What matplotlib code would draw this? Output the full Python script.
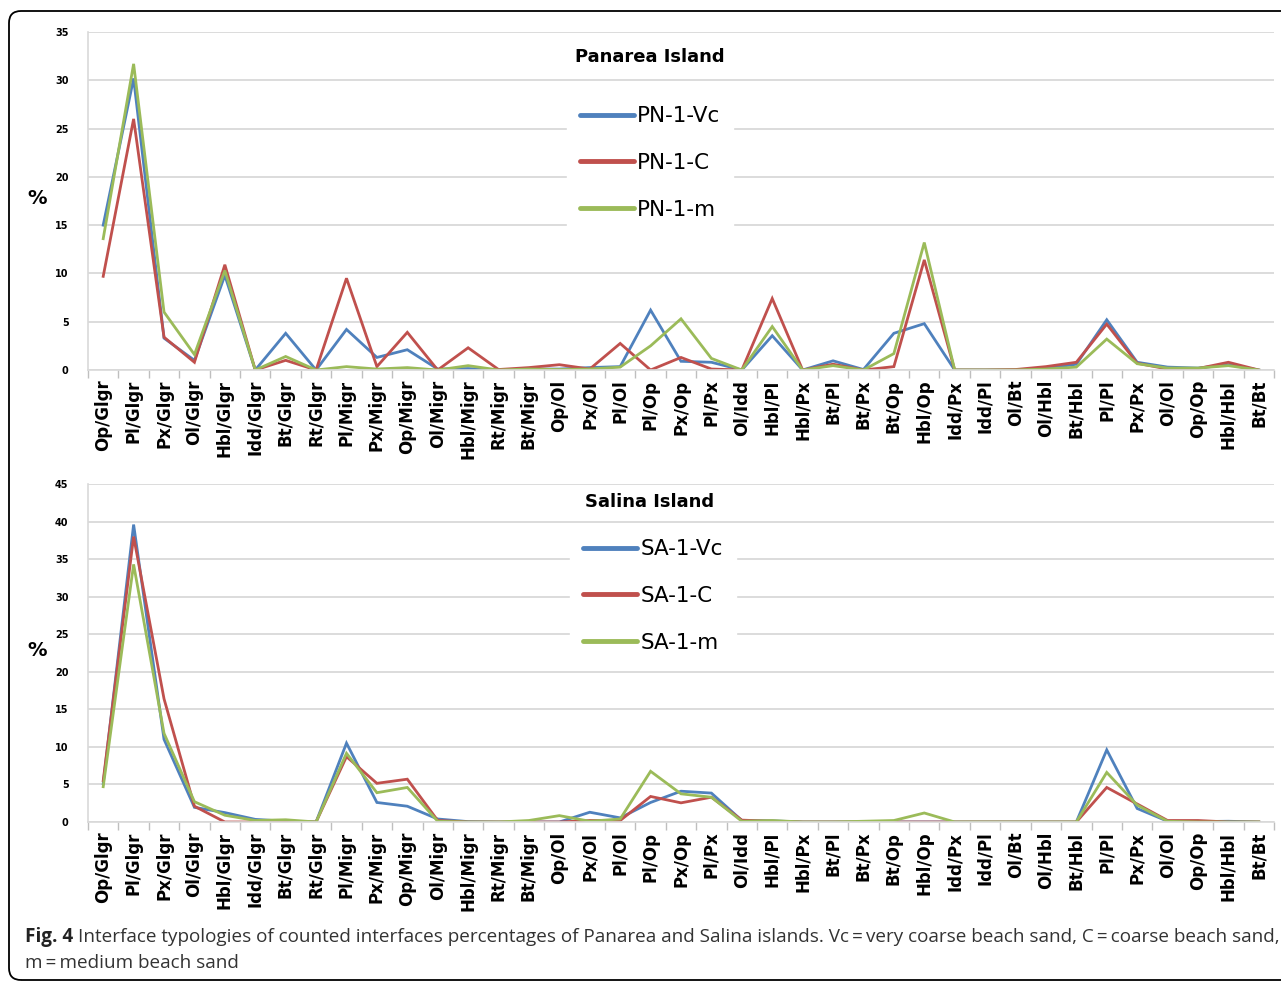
import matplotlib
matplotlib.use('Agg')
import matplotlib.pyplot as plt
import matplotlib.patches as mpatches
from matplotlib.transforms import IdentityTransform

# interface typologies (x axis)
categories = ['Op/Glgr', 'Pl/Glgr', 'Px/Glgr', 'Ol/Glgr', 'Hbl/Glgr', 'Idd/Glgr', 'Bt/Glgr', 'Rt/Glgr',
              'Pl/Migr', 'Px/Migr', 'Op/Migr', 'Ol/Migr', 'Hbl/Migr', 'Rt/Migr', 'Bt/Migr',
              'Op/Ol', 'Px/Ol', 'Pl/Ol', 'Pl/Op', 'Px/Op', 'Pl/Px', 'Ol/Idd', 'Hbl/Pl', 'Hbl/Px',
              'Bt/Pl', 'Bt/Px', 'Bt/Op', 'Hbl/Op', 'Idd/Px', 'Idd/Pl', 'Ol/Bt', 'Ol/Hbl', 'Bt/Hbl',
              'Pl/Pl', 'Px/Px', 'Ol/Ol', 'Op/Op', 'Hbl/Hbl', 'Bt/Bt']

# Panarea island
pn_vc = [15.0, 30.2, 3.3, 1.0, 9.8, 0, 3.8, 0, 4.2, 1.3, 2.1, 0.1, 0.15, 0, 0.1,
         0.1, 0.25, 0.35, 6.2, 0.9, 0.8, 0, 3.55, 0, 0.95, 0.05, 3.8, 4.8, 0, 0, 0,
         0.15, 0.6, 5.2, 0.8, 0.3, 0.2, 0.55, 0]
pn_c = [9.7, 26.0, 3.4, 0.8, 10.9, 0, 1.0, 0, 9.5, 0.35, 3.9, 0, 2.3, 0.05, 0.25,
        0.55, 0.1, 2.75, 0, 1.3, 0.1, 0, 7.4, 0, 0.6, 0, 0.35, 11.4, 0, 0, 0.05,
        0.35, 0.8, 4.75, 0.7, 0.1, 0.15, 0.8, 0]
pn_m = [13.6, 31.7, 6.0, 1.6, 10.3, 0, 1.4, 0, 0.35, 0.1, 0.25, 0, 0.45, 0, 0.1,
        0.05, 0.1, 0.3, 2.5, 5.3, 1.2, 0, 4.5, 0, 0.45, 0, 1.7, 13.2, 0, 0, 0,
        0.1, 0.3, 3.2, 0.65, 0.2, 0.2, 0.45, 0]

# Salina island
sa_vc = [5.1, 39.6, 11.0, 1.95, 1.25, 0.35, 0.1, 0, 10.5, 2.6, 2.1, 0.4, 0.05, 0, 0,
         0, 1.3, 0.55, 2.6, 4.1, 3.85, 0.2, 0.15, 0, 0, 0, 0, 0, 0, 0, 0,
         0, 0, 9.6, 1.8, 0.1, 0.05, 0.1, 0]
sa_c = [5.5, 38.0, 16.4, 2.1, 0, 0, 0.05, 0, 8.7, 5.15, 5.7, 0.2, 0, 0, 0,
        0, 0.2, 0.2, 3.4, 2.55, 3.3, 0.25, 0.1, 0, 0, 0, 0, 0, 0, 0, 0,
        0, 0, 4.6, 2.4, 0.2, 0.2, 0, 0]
sa_m = [4.7, 34.3, 11.8, 2.7, 0.9, 0.2, 0.3, 0, 9.15, 3.9, 4.6, 0.1, 0, 0, 0.2,
        0.85, 0.1, 0.4, 6.75, 3.75, 3.3, 0.1, 0.2, 0, 0, 0.1, 0.2, 1.2, 0, 0, 0,
        0, 0, 6.6, 2.25, 0.1, 0, 0, 0]

colors = ['#4F81BD', '#C0504D', '#9BBB59']
W, H = 1281, 981


def draw_panel(ax, series, labels, ymax, title, title_y, legend_x, legend_y):
    x = range(len(categories))
    for vals, lab, col in zip(series, labels, colors):
        ax.plot(x, vals, color=col, lw=2.0, label=lab, solid_joinstyle='miter')
    ax.set_xlim(-0.5, len(categories) - 0.5)
    ax.set_ylim(0, ymax)
    ax.set_yticks(range(0, ymax + 1, 5))
    ax.set_yticklabels([str(v) for v in range(0, ymax + 1, 5)], fontsize=7, fontweight='bold')
    ax.tick_params(axis='y', length=0, pad=14)
    ax.set_xticks(list(x))
    ax.set_xticklabels(categories, rotation=90, fontsize=12, fontweight='bold')
    ax.set_xticks([i - 0.5 for i in range(len(categories) + 1)], minor=True)
    ax.tick_params(axis='x', which='major', length=0, pad=7)
    ax.tick_params(axis='x', which='minor', length=6, color='#BFBFBF', width=1)
    ax.grid(axis='y', color='#D9D9D9', lw=1.3)
    ax.set_axisbelow(True)
    for s in ['top', 'right']:
        ax.spines[s].set_visible(False)
    for s in ['left', 'bottom']:
        ax.spines[s].set_color('#D9D9D9')
        ax.spines[s].set_linewidth(1.2)
    fig.text(650 / W, 1 - title_y / H, title, fontsize=13, fontweight='bold',
             ha='center', va='center')
    leg = ax.legend(loc='center', bbox_to_anchor=(legend_x / W, 1 - legend_y / H),
                    bbox_transform=fig.transFigure, fontsize=15.5, frameon=True,
                    facecolor='white', edgecolor='white', framealpha=1,
                    handlelength=2.5, handletextpad=0.15, labelspacing=1.24,
                    borderpad=0.6, fancybox=False)
    for h in leg.get_lines():
        h.set_linewidth(3.5)
        h.set_solid_capstyle('round')


fig = plt.figure(figsize=(W / 100, H / 100), dpi=100)

ax1 = fig.add_axes([88 / W, 1 - 370 / H, 1186 / W, 338 / H])
draw_panel(ax1, [pn_vc, pn_c, pn_m], ['PN-1-Vc', 'PN-1-C', 'PN-1-m'], 35,
           'Panarea Island', 57, 650, 163)
fig.text(37 / W, 1 - 199 / H, '%', fontsize=14, fontweight='bold', ha='center', va='center')

ax2 = fig.add_axes([88 / W, 1 - 822 / H, 1186 / W, 338 / H])
draw_panel(ax2, [sa_vc, sa_c, sa_m], ['SA-1-Vc', 'SA-1-C', 'SA-1-m'], 45,
           'Salina Island', 502, 653, 596)
fig.text(37 / W, 1 - 651 / H, '%', fontsize=14, fontweight='bold', ha='center', va='center')

# outer rounded frame
frame = mpatches.FancyBboxPatch((9, 1), 1310, H - 11 - 1,
                                boxstyle='round,pad=0,rounding_size=12',
                                transform=IdentityTransform(), fill=False,
                                edgecolor='black', lw=1.3)
fig.patches.append(frame)

# caption
cap_font = 'Open Sans'
cap_size = 13.6
renderer = fig.canvas.get_renderer()
t = fig.text(25 / W, 1 - 937 / H, 'Fig. 4', fontsize=cap_size, fontweight='bold',
             family=cap_font, va='center', ha='left', color='#222222')
bb = t.get_window_extent(renderer=renderer)
fig.text((bb.x1 + 5) / W, 1 - 937 / H,
         'Interface typologies of counted interfaces percentages of Panarea and Salina islands. '
         'Vc\u2009=\u2009very coarse beach sand, C\u2009=\u2009coarse beach sand,',
         fontsize=cap_size, family=[cap_font, 'DejaVu Sans'], color='#333333', va='center', ha='left')
fig.text(25 / W, 1 - 963 / H, 'm\u2009=\u2009medium beach sand', fontsize=cap_size,
         family=[cap_font, 'DejaVu Sans'], color='#333333', va='center', ha='left')

fig.savefig('out.png', dpi=100)
